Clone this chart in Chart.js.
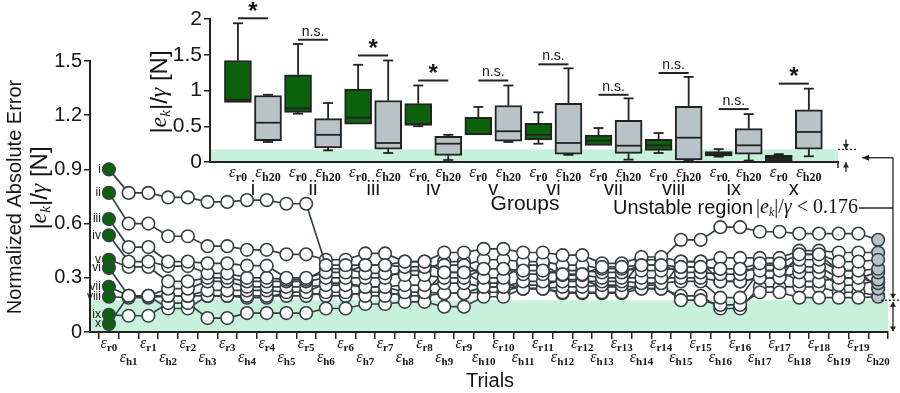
<!DOCTYPE html>
<html>
<head>
<meta charset="utf-8">
<script src="https://cdn.jsdelivr.net/npm/chart.js@4.4.1/dist/chart.umd.min.js"></script>
<style>
  html, body { margin: 0; padding: 0; background: #fff; }
  #wrap { position: relative; width: 900px; height: 393px; }
  #wrap canvas { position: absolute; left: 0; top: 0; }
</style>
</head>
<body>
<div id="wrap">
  <canvas id="chartTrials" width="900" height="393"></canvas>
  <canvas id="chartGroups" width="900" height="393"></canvas>
</div>
<script>
// trial order on the main x axis
const trialLabels = ['r0','h1','r1','h2','r2','h3','r3','h4','r4','h5','r5','h6','r6','h7','r7','h8','r8','h9','r9','h10',
  'r10','h11','r11','h12','r12','h13','r13','h14','r14','h15','r15','h16','r16','h17','r17','h18','r18','h19','r19','h20'];
const groupNames = ['i','ii','iii','iv','v','vi','vii','viii','ix','x'];

// normalized absolute error per trial, one array per group
const errI    = [0.90, 0.77,0.77, 0.745,0.745, 0.72,0.72, 0.73,0.73, 0.71,0.71, 0.37,0.37, 0.37,0.37, 0.39,0.39, 0.33,0.33, 0.35,0.35, 0.34,0.34, 0.32,0.32, 0.36,0.36, 0.37,0.37, 0.36,0.36, 0.35,0.35, 0.38,0.38, 0.43,0.43, 0.39,0.39, 0.40];
const errII   = [0.77, 0.60,0.60, 0.53,0.53, 0.475,0.475, 0.455,0.455, 0.43,0.43, 0.40,0.40, 0.435,0.435, 0.39,0.39, 0.44,0.44, 0.46,0.46, 0.44,0.44, 0.425,0.425, 0.38,0.38, 0.415,0.415, 0.39,0.39, 0.41,0.41, 0.41,0.41, 0.45,0.45, 0.44,0.44, 0.44];
const errIII  = [0.625, 0.47,0.47, 0.39,0.39, 0.38,0.38, 0.367,0.367, 0.30,0.30, 0.33,0.33, 0.37,0.37, 0.36,0.36, 0.37,0.37, 0.40,0.40, 0.39,0.39, 0.37,0.37, 0.35,0.35, 0.34,0.34, 0.36,0.36, 0.35,0.35, 0.34,0.34, 0.40,0.40, 0.34,0.34, 0.35];
const errIV   = [0.535, 0.39,0.39, 0.365,0.365, 0.325,0.325, 0.30,0.30, 0.29,0.29, 0.35,0.35, 0.325,0.325, 0.315,0.315, 0.30,0.30, 0.35,0.35, 0.32,0.32, 0.34,0.34, 0.33,0.33, 0.37,0.37, 0.33,0.33, 0.32,0.32, 0.37,0.37, 0.36,0.36, 0.30,0.30, 0.33];
const errV    = [0.40, 0.36,0.36, 0.28,0.28, 0.30,0.30, 0.28,0.28, 0.28,0.28, 0.30,0.30, 0.30,0.30, 0.34,0.34, 0.39,0.39, 0.30,0.30, 0.37,0.37, 0.315,0.315, 0.30,0.30, 0.30,0.30, 0.30,0.30, 0.28,0.28, 0.30,0.30, 0.33,0.33, 0.26,0.26, 0.29];
const errVI   = [0.355, 0.20,0.20, 0.24,0.24, 0.28,0.28, 0.25,0.25, 0.25,0.25, 0.26,0.26, 0.25,0.25, 0.26,0.26, 0.27,0.27, 0.25,0.25, 0.28,0.28, 0.28,0.28, 0.28,0.28, 0.27,0.27, 0.28,0.28, 0.19,0.19, 0.34,0.34, 0.28,0.28, 0.30,0.30, 0.27];
const errVII  = [0.25, 0.20,0.20, 0.20,0.20, 0.23,0.23, 0.23,0.23, 0.22,0.22, 0.27,0.27, 0.25,0.25, 0.22,0.22, 0.33,0.33, 0.27,0.27, 0.24,0.24, 0.25,0.25, 0.26,0.26, 0.24,0.24, 0.39,0.39, 0.28,0.28, 0.30,0.30, 0.43,0.43, 0.34,0.34, 0.24];
const errVIII = [0.195, 0.19,0.19, 0.20,0.20, 0.20,0.20, 0.20,0.20, 0.20,0.20, 0.22,0.22, 0.20,0.20, 0.22,0.22, 0.215,0.215, 0.25,0.25, 0.24,0.24, 0.22,0.22, 0.22,0.22, 0.26,0.26, 0.176,0.176, 0.15,0.15, 0.22,0.22, 0.19,0.19, 0.19,0.19, 0.195];
const errIX   = [0.095, 0.09,0.09, 0.16,0.16, 0.077,0.077, 0.105,0.105, 0.105,0.105, 0.13,0.13, 0.155,0.155, 0.167,0.167, 0.14,0.14, 0.195,0.195, 0.24,0.24, 0.215,0.215, 0.215,0.215, 0.24,0.24, 0.20,0.20, 0.13,0.13, 0.25,0.25, 0.25,0.25, 0.22,0.22, 0.20];
const errX    = [0.045, 0.20,0.20, 0.13,0.13, 0.20,0.20, 0.19,0.19, 0.22,0.22, 0.20,0.20, 0.22,0.22, 0.20,0.20, 0.215,0.215, 0.22,0.22, 0.26,0.26, 0.29,0.29, 0.25,0.25, 0.40,0.40, 0.51,0.51, 0.58,0.58, 0.555,0.555, 0.545,0.545, 0.545,0.545, 0.51];
const trialSeries = [errI, errII, errIII, errIV, errV, errVI, errVII, errVIII, errIX, errX];

// box plots per group: first trial (r0) and last trial (h20)
const r0Min  = [0.835, 0.676, 0.53, 0.50, 0.38, 0.256, 0.233, 0.126, 0.075, 0.014];
const r0Q1   = [0.835, 0.695, 0.53, 0.51, 0.38, 0.31, 0.233, 0.163, 0.084, 0.014];
const r0Med  = [0.87, 0.75, 0.62, 0.53, 0.39, 0.38, 0.30, 0.233, 0.117, 0.056];
const r0Q3   = [1.42, 1.22, 1.02, 0.816, 0.625, 0.54, 0.378, 0.317, 0.145, 0.093];
const r0Max  = [1.94, 1.65, 1.36, 1.07, 0.77, 0.695, 0.475, 0.405, 0.18, 0.11];
const h20Min = [0.28, 0.163, 0.126, 0.028, 0.28, 0.10, 0.033, 0.02, 0.02, 0.08];
const h20Q1  = [0.30, 0.196, 0.18, 0.093, 0.29, 0.11, 0.12, 0.028, 0.11, 0.18];
const h20Med = [0.55, 0.38, 0.266, 0.256, 0.43, 0.266, 0.228, 0.34, 0.233, 0.42];
const h20Q3  = [0.93, 0.606, 0.86, 0.36, 0.79, 0.82, 0.583, 0.78, 0.466, 0.73];
const h20Max = [0.94, 0.825, 1.42, 0.38, 1.07, 1.31, 0.89, 1.19, 0.67, 1.026];
const sigMarks   = ['*','n.s.','*','*','n.s.','n.s.','n.s.','n.s.','n.s.','*'];
const sigHeights = [2.01, 1.71, 1.49, 1.14, 1.14, 1.366, 0.94, 1.245, 0.74, 1.096];

const mainTicks  = [0, 0.3, 0.6, 0.9, 1.2, 1.5];
const insetTicks = [0, 0.5, 1, 1.5, 2];
const unstableLimit = 0.176;

const SANS = "'Liberation Sans', Arial, sans-serif";
const SERIF = "'Liberation Serif', 'DejaVu Serif', serif";
const INK = '#151515';
const LINE = '#364044';
const BAND = '#c7f1db';
const GREEN = '#0b620b';
const GREY = '#b7c3c7';

Chart.defaults.font.family = SANS;
Chart.defaults.color = INK;

function runsWidth(ctx, runs) {
  let w = 0;
  runs.forEach(r => { ctx.font = r.font; w += ctx.measureText(r.t).width; });
  return w;
}
function drawRuns(ctx, runs, x, y, align) {
  const w = runsWidth(ctx, runs);
  let cx = align === 'center' ? x - w / 2 : align === 'right' ? x - w : x;
  ctx.textAlign = 'left';
  runs.forEach(r => {
    ctx.font = r.font;
    ctx.fillText(r.t, cx, y + (r.dy || 0));
    cx += ctx.measureText(r.t).width;
  });
}
function epsRuns(sub, size) {
  return [
    { t: 'ε', font: `italic ${size}px ${SERIF}` },
    { t: sub, font: `bold ${Math.round(size * 0.7)}px ${SERIF}`, dy: size * 0.28 }
  ];
}
function ekRuns(size, bars) {
  return [
    { t: '|', font: `${size}px ${bars}` },
    { t: 'e', font: `italic ${size}px ${SERIF}` },
    { t: 'k', font: `italic ${Math.round(size * 0.62)}px ${SERIF}`, dy: size * 0.25 },
    { t: '|/', font: `${size}px ${bars}` },
    { t: 'γ', font: `italic ${size}px ${SERIF}` }
  ];
}
function arrowHead(ctx, x, y, dir) {
  const s = 5;
  ctx.beginPath();
  if (dir === 'down') { ctx.moveTo(x, y); ctx.lineTo(x - 3, y - s); ctx.lineTo(x + 3, y - s); }
  if (dir === 'up') { ctx.moveTo(x, y); ctx.lineTo(x - 3, y + s); ctx.lineTo(x + 3, y + s); }
  if (dir === 'left') { ctx.moveTo(x, y); ctx.lineTo(x + s + 2, y - 3); ctx.lineTo(x + s + 2, y + 3); }
  ctx.closePath();
  ctx.fill();
}
function seg(ctx, x1, y1, x2, y2) {
  ctx.beginPath(); ctx.moveTo(x1, y1); ctx.lineTo(x2, y2); ctx.stroke();
}

// ---------- main chart: error over trials ----------
const trialDecor = {
  id: 'trialDecor',
  beforeDraw(chart) {
    const { ctx, chartArea: a, scales: { y } } = chart;
    const top = y.getPixelForValue(unstableLimit);
    ctx.save();
    ctx.fillStyle = BAND;
    ctx.fillRect(a.left, top, a.right - a.left, y.getPixelForValue(0) - top);
    ctx.restore();
  },
  afterDraw(chart) {
    const { ctx, chartArea: a, scales: { x, y } } = chart;
    ctx.save();
    ctx.fillStyle = INK;
    ctx.textBaseline = 'middle';
    trialLabels.forEach((lab, i) => {
      drawRuns(ctx, epsRuns(lab, 16), x.getPixelForValue(i), a.bottom + (lab[0] === 'r' ? 12 : 26), 'center');
    });
    ctx.font = `12px ${SANS}`;
    ctx.textAlign = 'right';
    groupNames.forEach((g, s) => {
      ctx.fillText(g, x.getPixelForValue(0) - 8, y.getPixelForValue(trialSeries[s][0]));
    });
    ctx.font = `20px ${SANS}`;
    ctx.textAlign = 'center';
    ctx.fillText('Trials', 490, 381);

    ctx.save();
    ctx.translate(15, 197);
    ctx.rotate(-Math.PI / 2);
    ctx.font = `20px ${SANS}`;
    ctx.textAlign = 'center';
    ctx.fillText('Normalized Absolute Error', 0, 0);
    ctx.restore();

    ctx.save();
    ctx.translate(40, 188);
    ctx.rotate(-Math.PI / 2);
    drawRuns(ctx, ekRuns(24, SANS).concat([{ t: ' [N]', font: `24px ${SANS}` }]), 0, 0, 'center');
    ctx.restore();
    ctx.restore();
  }
};

const trialChart = new Chart(document.getElementById('chartTrials'), {
  type: 'line',
  data: {
    datasets: trialSeries.map((vals, s) => ({
      label: groupNames[s],
      data: vals.map((v, i) => ({ x: i, y: v })),
      borderColor: LINE,
      borderWidth: 1.7,
      pointRadius: 6.3,
      pointBorderWidth: 1.6,
      pointBorderColor: LINE,
      pointBackgroundColor: (c) => c.dataIndex === 0 ? GREEN : (c.dataIndex === trialLabels.length - 1 ? GREY : '#fff')
    }))
  },
  options: {
    responsive: false,
    animation: false,
    devicePixelRatio: 1,
    layout: { padding: { top: 61, right: 12, left: 0, bottom: 0 } },
    plugins: { legend: { display: false }, tooltip: { enabled: false } },
    scales: {
      x: {
        type: 'linear',
        offset: false,
        min: -0.96,
        max: 39.5,
        afterBuildTicks: (s) => { s.ticks = trialLabels.map((l, i) => ({ value: i - 0.5 })).concat([{ value: 39.5 }]); },
        afterFit: (s) => { s.height = 61; },
        ticks: { display: false },
        grid: { drawOnChartArea: false, tickLength: 7, color: '#222', lineWidth: 1.5 },
        border: { color: '#222', width: 2 }
      },
      y: {
        min: 0,
        max: 1.5,
        afterBuildTicks: (s) => { s.ticks = mainTicks.map(v => ({ value: v })); },
        afterFit: (s) => { s.width = 90; },
        ticks: {
          padding: 2,
          font: { size: 20 },
          color: INK,
          callback: (v) => v === 0 ? '0' : v.toFixed(1)
        },
        grid: { drawOnChartArea: false, tickLength: 6, color: '#222', lineWidth: 1.5 },
        border: { color: '#222', width: 2 }
      }
    }
  },
  plugins: [trialDecor]
});

// ---------- inset: box plots per group ----------
function boxData(q1, q3, offset) {
  return q1.map((v, g) => ({ x: 2 * g + offset, y: [v, q3[g]] }));
}

const groupDecor = {
  id: 'groupDecor',
  beforeDraw(chart) {
    const { ctx, chartArea: a, scales: { y } } = chart;
    const top = y.getPixelForValue(unstableLimit);
    ctx.save();
    ctx.fillStyle = BAND;
    ctx.fillRect(a.left, top, a.right - a.left, y.getPixelForValue(0) - top);
    ctx.restore();
  },
  afterDatasetsDraw(chart) {
    const { ctx, scales: { x, y } } = chart;
    const parts = [[r0Min, r0Q1, r0Med, r0Q3, r0Max, 0], [h20Min, h20Q1, h20Med, h20Q3, h20Max, 1]];
    ctx.save();
    ctx.strokeStyle = '#222';
    ctx.lineWidth = 1.8;
    groupNames.forEach((g, i) => {
      parts.forEach(([mn, q1, md, q3, mx, off]) => {
        const xc = x.getPixelForValue(2 * i + off);
        if (mx[i] > q3[i] + 0.005) {
          seg(ctx, xc, y.getPixelForValue(q3[i]), xc, y.getPixelForValue(mx[i]));
          seg(ctx, xc - 5, y.getPixelForValue(mx[i]), xc + 5, y.getPixelForValue(mx[i]));
        }
        if (mn[i] < q1[i] - 0.005) {
          seg(ctx, xc, y.getPixelForValue(q1[i]), xc, y.getPixelForValue(mn[i]));
          seg(ctx, xc - 5, y.getPixelForValue(mn[i]), xc + 5, y.getPixelForValue(mn[i]));
        }
        seg(ctx, xc - 13, y.getPixelForValue(md[i]), xc + 13, y.getPixelForValue(md[i]));
      });
    });
    ctx.restore();
  },
  afterDraw(chart) {
    const { ctx, chartArea: a, scales: { x, y } } = chart;
    ctx.save();
    ctx.fillStyle = INK;
    ctx.strokeStyle = '#222';
    ctx.textBaseline = 'middle';
    groupNames.forEach((g, i) => {
      const xr = x.getPixelForValue(2 * i);
      const xh = x.getPixelForValue(2 * i + 1);
      drawRuns(ctx, epsRuns('r0', 17), xr, a.bottom + 11, 'center');
      drawRuns(ctx, epsRuns('h20', 17), xh, a.bottom + 11, 'center');
      ctx.font = `20px ${SANS}`;
      ctx.textAlign = 'center';
      ctx.fillText(g, (xr + xh) / 2, a.bottom + 27);
      // significance bar
      const ys = y.getPixelForValue(sigHeights[i]);
      ctx.lineWidth = 2;
      seg(ctx, xr, ys, xh, ys);
      if (sigMarks[i] === '*') {
        ctx.font = `bold 24px ${SANS}`;
        ctx.fillText('*', (xr + xh) / 2, ys - 6);
      } else {
        ctx.font = `14px ${SANS}`;
        ctx.fillText(sigMarks[i], (xr + xh) / 2, ys - 8);
      }
    });
    ctx.font = `21px ${SANS}`;
    ctx.textAlign = 'center';
    ctx.fillText('Groups', 525, a.bottom + 42);

    // small tick at the right end of the inset axis
    ctx.lineWidth = 1.5;
    seg(ctx, a.right, a.bottom, a.right, a.bottom + 6);

    ctx.save();
    ctx.translate(160, 92);
    ctx.rotate(-Math.PI / 2);
    drawRuns(ctx, ekRuns(24, SANS).concat([{ t: ' [N]', font: `24px ${SANS}` }]), 0, 0, 'center');
    ctx.restore();

    // unstable region annotation linking both bands
    const my = trialChart.scales.y;
    const iTop = y.getPixelForValue(unstableLimit);
    const iBot = y.getPixelForValue(0);
    const mTop = my.getPixelForValue(unstableLimit);
    const mBot = my.getPixelForValue(0);
    const xi = a.right + 8;
    const xm = 893;
    ctx.fillStyle = '#222';
    ctx.lineWidth = 1.3;
    ctx.setLineDash([2, 2]);
    seg(ctx, a.right, iTop, a.right + 18, iTop);
    seg(ctx, xm - 12, mTop, 900, mTop);
    ctx.setLineDash([]);
    seg(ctx, xi, iTop - 10, xi, iTop);
    arrowHead(ctx, xi, iTop - 0.5, 'down');
    seg(ctx, xi, iBot, xi, iBot + 10);
    arrowHead(ctx, xi, iBot + 0.5, 'up');
    const iMid = (iTop + iBot) / 2 + 2;
    seg(ctx, xm, iMid, a.right + 24, iMid);
    arrowHead(ctx, a.right + 24, iMid, 'left');
    seg(ctx, xm, iMid, xm, mTop - 2);
    arrowHead(ctx, xm, mTop - 1.5, 'down');
    seg(ctx, xm, mTop + 2, xm, mBot - 1);
    arrowHead(ctx, xm, mTop + 1.5, 'up');
    arrowHead(ctx, xm, mBot - 0.5, 'down');

    const textY = 208;
    const mathRuns = ekRuns(20, SERIF).concat([{ t: ' < 0.176', font: `20px ${SERIF}` }]);
    const mathW = runsWidth(ctx, mathRuns);
    const textEnd = 858;
    seg(ctx, textEnd + 1, textY, xm, textY);
    ctx.fillStyle = INK;
    drawRuns(ctx, mathRuns, textEnd, textY, 'right');
    ctx.font = `20px ${SANS}`;
    ctx.textAlign = 'right';
    ctx.fillText('Unstable region', textEnd - mathW - 3, textY);
    ctx.restore();
  }
};

new Chart(document.getElementById('chartGroups'), {
  type: 'bar',
  data: {
    datasets: [
      { label: 'r0', data: boxData(r0Q1, r0Q3, 0), backgroundColor: GREEN, borderColor: '#222', borderWidth: 2, borderSkipped: false, barThickness: 27, grouped: false },
      { label: 'h20', data: boxData(h20Q1, h20Q3, 1), backgroundColor: GREY, borderColor: '#222', borderWidth: 2, borderSkipped: false, barThickness: 27, grouped: false }
    ]
  },
  options: {
    responsive: false,
    animation: false,
    devicePixelRatio: 1,
    layout: { padding: { top: 19, right: 62, left: 0, bottom: 0 } },
    plugins: { legend: { display: false }, tooltip: { enabled: false } },
    scales: {
      x: {
        type: 'linear',
        offset: false,
        min: -0.93,
        max: 19.97,
        afterFit: (s) => { s.height = 231; },
        ticks: { display: false },
        grid: { display: false },
        border: { color: '#222', width: 2 }
      },
      y: {
        min: 0,
        max: 2,
        afterBuildTicks: (s) => { s.ticks = insetTicks.map(v => ({ value: v })); },
        afterFit: (s) => { s.width = 210; },
        ticks: { padding: 2, font: { size: 21 }, color: INK, callback: (v) => String(v) },
        grid: { drawOnChartArea: false, tickLength: 6, color: '#222', lineWidth: 1.5 },
        border: { color: '#222', width: 2 }
      }
    }
  },
  plugins: [groupDecor]
});
</script>
</body>
</html>
